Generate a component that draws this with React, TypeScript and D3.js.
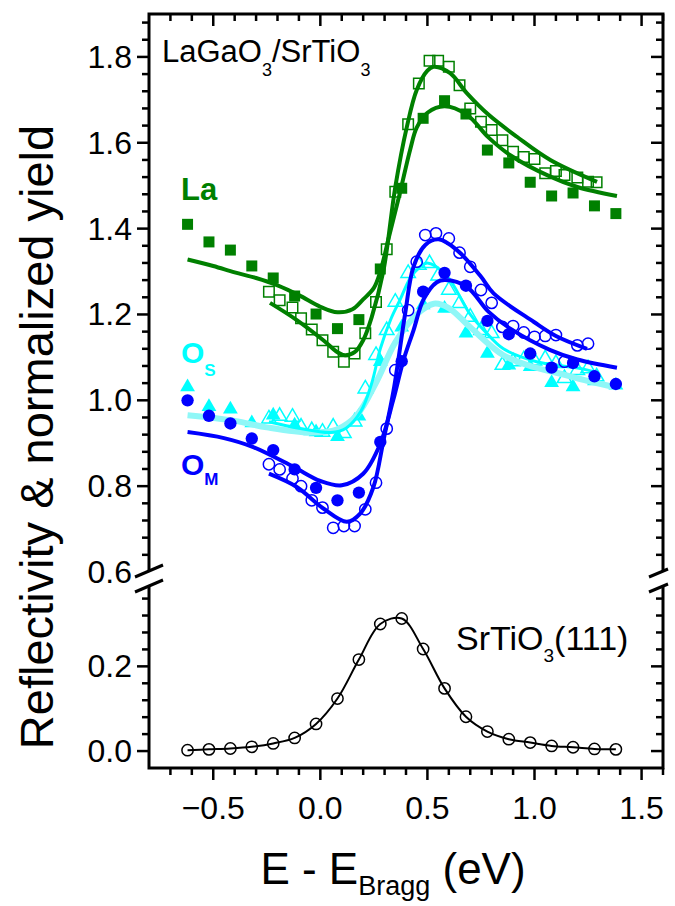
import React from "react";
import * as d3 from "d3";

// ---------- data ----------
const xCoarse = [-0.62, -0.52, -0.42, -0.32, -0.22, -0.12, -0.02, 0.08, 0.18, 0.28, 0.38, 0.48, 0.58, 0.68, 0.78, 0.88, 0.98, 1.08, 1.18, 1.28, 1.38];
const xFine = [-0.24, -0.19, -0.13, -0.09, -0.04, 0.01, 0.06, 0.11, 0.16, 0.21, 0.26, 0.31, 0.35, 0.41, 0.46, 0.51, 0.55, 0.6, 0.65, 0.7, 0.75, 0.8, 0.85, 0.9, 0.95, 1.0, 1.05, 1.1, 1.14, 1.2, 1.25, 1.29];
const xFineOM = [-0.24, -0.19, -0.13, -0.09, -0.04, 0.01, 0.06, 0.11, 0.16, 0.21, 0.26, 0.31, 0.35, 0.41, 0.45, 0.49, 0.54, 0.6, 0.65, 0.7, 0.75, 0.8, 0.85, 0.9, 0.95, 1.0, 1.05, 1.1, 1.14, 1.2, 1.25];

const laFilled = [1.41, 1.369, 1.35, 1.313, 1.285, 1.243, 1.201, 1.167, 1.188, 1.306, 1.494, 1.657, 1.698, 1.667, 1.583, 1.553, 1.508, 1.476, 1.483, 1.453, 1.435];
const laOpen = [1.253, 1.233, 1.216, 1.191, 1.165, 1.14, 1.113, 1.09, 1.109, 1.156, 1.229, 1.352, 1.486, 1.643, 1.738, 1.791, 1.791, 1.777, 1.734, 1.68, 1.649, 1.63, 1.606, 1.579, 1.567, 1.562, 1.529, 1.534, 1.525, 1.519, 1.509, 1.508];
const osFilled = [1.031, 0.985, 0.979, 0.947, 0.965, 0.942, 0.926, 0.915, 0.963, 1.09, 1.17, 1.222, 1.214, 1.156, 1.109, 1.082, 1.078, 1.041, 1.031, 1.045, 1.035];
const osOpen = [0.957, 0.963, 0.961, 0.938, 0.93, 0.926, 0.938, 0.923, 0.95, 1.027, 1.105, 1.163, 1.229, 1.296, 1.315, 1.319, 1.29, 1.257, 1.226, 1.194, 1.163, 1.156, 1.082, 1.09, 1.095, 1.092, 1.097, 1.086, 1.051, 1.07, 1.074, 1.055];
const omFilled = [1.0, 0.964, 0.946, 0.911, 0.884, 0.839, 0.796, 0.767, 0.785, 0.903, 1.091, 1.253, 1.297, 1.267, 1.185, 1.154, 1.109, 1.076, 1.087, 1.056, 1.038];
const omOpen = [0.851, 0.839, 0.818, 0.8, 0.767, 0.75, 0.703, 0.707, 0.707, 0.746, 0.808, 0.934, 1.07, 1.21, 1.323, 1.385, 1.389, 1.377, 1.344, 1.311, 1.257, 1.227, 1.171, 1.173, 1.158, 1.148, 1.15, 1.152, 1.09, 1.128, 1.132];
const stoRefl = [0.002, 0.004, 0.006, 0.01, 0.018, 0.031, 0.064, 0.124, 0.216, 0.3, 0.313, 0.241, 0.148, 0.081, 0.046, 0.028, 0.02, 0.012, 0.009, 0.005, 0.004];

// fitted curves (energy, value)
const laFilledFit: [number, number][] = [[-0.62, 1.328], [-0.5, 1.313], [-0.4, 1.298], [-0.3, 1.285], [-0.2, 1.268], [-0.1, 1.245], [0.0, 1.218], [0.08, 1.205], [0.15, 1.212], [0.2, 1.235], [0.25, 1.262], [0.28, 1.3], [0.32, 1.38], [0.37, 1.48], [0.42, 1.585], [0.45, 1.635], [0.5, 1.67], [0.58, 1.685], [0.685, 1.665], [0.786, 1.612], [0.887, 1.571], [1.074, 1.521], [1.2, 1.497], [1.385, 1.476]];
const laOpenFit: [number, number][] = [[-0.235, 1.227], [-0.11, 1.187], [0.014, 1.14], [0.08, 1.112], [0.116, 1.105], [0.16, 1.112], [0.2, 1.14], [0.24, 1.194], [0.295, 1.303], [0.35, 1.497], [0.404, 1.637], [0.45, 1.723], [0.5, 1.768], [0.529, 1.777], [0.606, 1.762], [0.685, 1.715], [0.786, 1.665], [0.918, 1.614], [1.074, 1.56], [1.292, 1.509]];
const osFilledFit: [number, number][] = [[-0.62, 0.965], [-0.4, 0.952], [-0.25, 0.937], [-0.05, 0.925], [0.077, 0.932], [0.17, 0.965], [0.264, 1.045], [0.35, 1.135], [0.45, 1.2], [0.53, 1.225], [0.6, 1.215], [0.7, 1.17], [0.855, 1.105], [1.0, 1.077], [1.09, 1.066], [1.25, 1.045], [1.38, 1.03]];
const osOpenFit: [number, number][] = [[-0.24, 0.95], [-0.1, 0.935], [0.05, 0.925], [0.12, 0.935], [0.19, 0.975], [0.24, 1.04], [0.28, 1.12], [0.33, 1.19], [0.373, 1.235], [0.42, 1.285], [0.466, 1.311], [0.5, 1.32], [0.59, 1.29], [0.7, 1.2], [0.77, 1.16], [0.855, 1.12], [1.01, 1.09], [1.214, 1.074], [1.29, 1.065]];
const omFilledFit: [number, number][] = [[-0.62, 0.926], [-0.45, 0.912], [-0.313, 0.891], [-0.126, 0.845], [0.0, 0.812], [0.1, 0.802], [0.2, 0.829], [0.28, 0.899], [0.34, 1.0], [0.388, 1.093], [0.435, 1.163], [0.482, 1.235], [0.544, 1.275], [0.583, 1.28], [0.685, 1.264], [0.786, 1.206], [0.887, 1.167], [1.074, 1.117], [1.2, 1.095], [1.385, 1.076]];
const omOpenFit: [number, number][] = [[-0.24, 0.829], [-0.11, 0.798], [0.014, 0.748], [0.124, 0.717], [0.186, 0.736], [0.248, 0.798], [0.295, 0.907], [0.342, 1.023], [0.396, 1.202], [0.435, 1.311], [0.49, 1.362], [0.552, 1.375], [0.638, 1.35], [0.747, 1.29], [0.809, 1.249], [0.996, 1.183], [1.1, 1.15], [1.245, 1.12]];

// axis ticks
const xMajorTicks = [-0.5, 0.0, 0.5, 1.0, 1.5];
const yUpperLabels = [0.6, 0.8, 1.0, 1.2, 1.4, 1.6, 1.8];
const yLowerLabels = [0.0, 0.2];

const GREEN = "#008000";
const CYAN = "#00ffff";
const PALECYAN = "#8ff7f7";
const BLUE = "#0000ff";
const FONT = "'Liberation Sans', Arial, Helvetica, sans-serif";

export default function App() {
  const L = 149, R = 663, T = 14, B = 768;
  const x = d3.scaleLinear().domain([-0.8, 1.6]).range([L, R]);
  const yU = d3.scaleLinear().domain([0.6, 1.9]).range([572, T]);
  const yL = d3.scaleLinear().domain([-0.04, 0.385]).range([B, 588]);

  const lineU = d3.line<[number, number]>().x(d => x(d[0])).y(d => yU(d[1])).curve(d3.curveCatmullRom.alpha(0.5));
  const lineL = d3.line<[number, number]>().x(d => x(d[0])).y(d => yL(d[1])).curve(d3.curveCatmullRom.alpha(0.5));

  const sq = d3.symbol().type(d3.symbolSquare).size(121)()!;
  const sqOpen = d3.symbol().type(d3.symbolSquare).size(110)()!;
  const tri = d3.symbol().type(d3.symbolTriangle).size(95)()!;
  const triOpen = d3.symbol().type(d3.symbolTriangle).size(90)()!;
  const circ = d3.symbol().type(d3.symbolCircle).size(120)()!;
  const circOpen = d3.symbol().type(d3.symbolCircle).size(100)()!;

  const pts = (xs: number[], ys: number[], path: string, fill: string, stroke: string, sw: number, key: string, yScale = yU) =>
    ys.map((v, i) => (
      <path key={key + i} d={path} transform={`translate(${x(xs[i])},${yScale(v)})`} fill={fill} stroke={stroke} strokeWidth={sw} />
    ));

  const xMinor = d3.range(-0.7, 1.65, 0.1).map(v => Math.round(v * 10) / 10).filter(v => !xMajorTicks.some(m => Math.abs(m - v) < 1e-6));
  const yUMajor = [0.8, 1.0, 1.2, 1.4, 1.6, 1.8];
  const yUMinor = d3.range(0.64, 1.9, 0.04).map(v => Math.round(v * 100) / 100).filter(v => !yUMajor.some(m => Math.abs(m - v) < 1e-6));
  const yLMajor = [0.0, 0.2];
  const yLMinor = d3.range(0.04, 0.38, 0.04).map(v => Math.round(v * 100) / 100).filter(v => !yLMajor.some(m => Math.abs(m - v) < 1e-6));

  const MJ = 12, MN = 7, TW = 2.5;

  return (
    <svg width={675} height={906} style={{ position: "absolute", left: 0, top: 0, background: "#fff" }} fontFamily={FONT}>
      <rect x={0} y={0} width={675} height={906} fill="#fff" />

      {/* O_S */}
      {pts(xCoarse, osFilled, tri, CYAN, "none", 0, "osf")}
      {pts(xFine, osOpen, triOpen, "none", CYAN, 1.5, "oso")}
      <path d={lineU(osFilledFit)!} fill="none" stroke={PALECYAN} strokeWidth={6} />
      <path d={lineU(osOpenFit)!} fill="none" stroke={CYAN} strokeWidth={3} />

      {/* O_M */}
      {pts(xCoarse, omFilled, circ, BLUE, "none", 0, "omf")}
      {pts(xFineOM, omOpen, circOpen, "none", BLUE, 1.5, "omo")}
      <path d={lineU(omFilledFit)!} fill="none" stroke={BLUE} strokeWidth={4} />
      <path d={lineU(omOpenFit)!} fill="none" stroke={BLUE} strokeWidth={4} />

      {/* La */}
      {pts(xCoarse, laFilled, sq, GREEN, "none", 0, "laf")}
      {pts(xFine, laOpen, sqOpen, "none", GREEN, 1.5, "lao")}
      <path d={lineU(laFilledFit)!} fill="none" stroke={GREEN} strokeWidth={4} />
      <path d={lineU(laOpenFit)!} fill="none" stroke={GREEN} strokeWidth={4} />

      {/* SrTiO3 */}
      <path d={lineL(xCoarse.map((v, i) => [v, stoRefl[i]] as [number, number]))!} fill="none" stroke="#000" strokeWidth={2} />
      {pts(xCoarse, stoRefl, circOpen, "none", "#000", 1.5, "sto", yL)}

      {/* frame */}
      <rect x={L} y={T} width={R - L} height={B - T} fill="none" stroke="#000" strokeWidth={3} />

      {/* x ticks */}
      {xMajorTicks.map(v => (
        <g key={"xm" + v}>
          <line x1={x(v)} x2={x(v)} y1={B} y2={B + MJ} stroke="#000" strokeWidth={TW} />
          <line x1={x(v)} x2={x(v)} y1={T} y2={T + MJ} stroke="#000" strokeWidth={TW} />
          <text x={x(v)} y={B + 51} fontSize={32} textAnchor="middle">{d3.format(".1f")(v)}</text>
        </g>
      ))}
      {xMinor.map(v => (
        <g key={"xn" + v}>
          <line x1={x(v)} x2={x(v)} y1={B} y2={B + MN} stroke="#000" strokeWidth={TW} />
          <line x1={x(v)} x2={x(v)} y1={T} y2={T + MN} stroke="#000" strokeWidth={TW} />
        </g>
      ))}

      {/* y ticks upper */}
      {yUMajor.map(v => (
        <g key={"yum" + v}>
          <line x1={L - MJ} x2={L} y1={yU(v)} y2={yU(v)} stroke="#000" strokeWidth={TW} />
          <line x1={R - MJ} x2={R} y1={yU(v)} y2={yU(v)} stroke="#000" strokeWidth={TW} />
        </g>
      ))}
      {yUMinor.map(v => (
        <g key={"yun" + v}>
          <line x1={L - MN} x2={L} y1={yU(v)} y2={yU(v)} stroke="#000" strokeWidth={TW} />
          <line x1={R - MN} x2={R} y1={yU(v)} y2={yU(v)} stroke="#000" strokeWidth={TW} />
        </g>
      ))}
      {yUpperLabels.map(v => (
        <text key={"yul" + v} x={132} y={yU(v) + 11} fontSize={32} textAnchor="end">{d3.format(".1f")(v)}</text>
      ))}

      {/* y ticks lower */}
      {yLMajor.map(v => (
        <g key={"ylm" + v}>
          <line x1={L - MJ} x2={L} y1={yL(v)} y2={yL(v)} stroke="#000" strokeWidth={TW} />
          <line x1={R - MJ} x2={R} y1={yL(v)} y2={yL(v)} stroke="#000" strokeWidth={TW} />
        </g>
      ))}
      {yLMinor.map(v => (
        <g key={"yln" + v}>
          <line x1={L - MN} x2={L} y1={yL(v)} y2={yL(v)} stroke="#000" strokeWidth={TW} />
          <line x1={R - MN} x2={R} y1={yL(v)} y2={yL(v)} stroke="#000" strokeWidth={TW} />
        </g>
      ))}
      {yLowerLabels.map(v => (
        <text key={"yll" + v} x={132} y={yL(v) + 11} fontSize={32} textAnchor="end">{d3.format(".1f")(v)}</text>
      ))}

      {/* axis breaks */}
      <polygon points={`${L - 14},577 ${L + 14},565 ${L + 14},580 ${L - 14},592`} fill="#fff" />
      <line x1={L - 14} y1={577} x2={L + 14} y2={565} stroke="#000" strokeWidth={3} />
      <line x1={L - 14} y1={592} x2={L + 14} y2={580} stroke="#000" strokeWidth={3} />
      <polygon points={`${R - 14},577 ${R + 5},569 ${R + 5},584 ${R - 14},592`} fill="#fff" />
      <line x1={R - 14} y1={577} x2={R + 5} y2={569} stroke="#000" strokeWidth={3} />
      <line x1={R - 14} y1={592} x2={R + 5} y2={584} stroke="#000" strokeWidth={3} />

      {/* annotations */}
      <text x={162} y={62} fontSize={31}>LaGaO<tspan fontSize={18} dy={14}>3</tspan><tspan dy={-14}>/SrTiO</tspan><tspan fontSize={18} dy={14}>3</tspan></text>
      <text x={181} y={200} fontSize={31} fontWeight="bold" fill={GREEN}>La</text>
      <text x={181} y={363} fontSize={30} fontWeight="bold" fill={CYAN}>O<tspan fontSize={17} dy={13}>S</tspan></text>
      <text x={181} y={475} fontSize={30} fontWeight="bold" fill={BLUE}>O<tspan fontSize={17} dy={10}>M</tspan></text>
      <text x={456} y={650} fontSize={34}>SrTiO<tspan fontSize={19} dy={12}>3</tspan><tspan dy={-12}>(111)</tspan></text>

      {/* axis titles */}
      <text x={393} y={884} fontSize={44} textAnchor="middle">E - E<tspan fontSize={27} dy={11}>Bragg</tspan><tspan dy={-11}> (eV)</tspan></text>
      <text transform="translate(53,437) rotate(-90)" fontSize={47} textAnchor="middle">Reflectivity &amp; normalized yield</text>
    </svg>
  );
}
